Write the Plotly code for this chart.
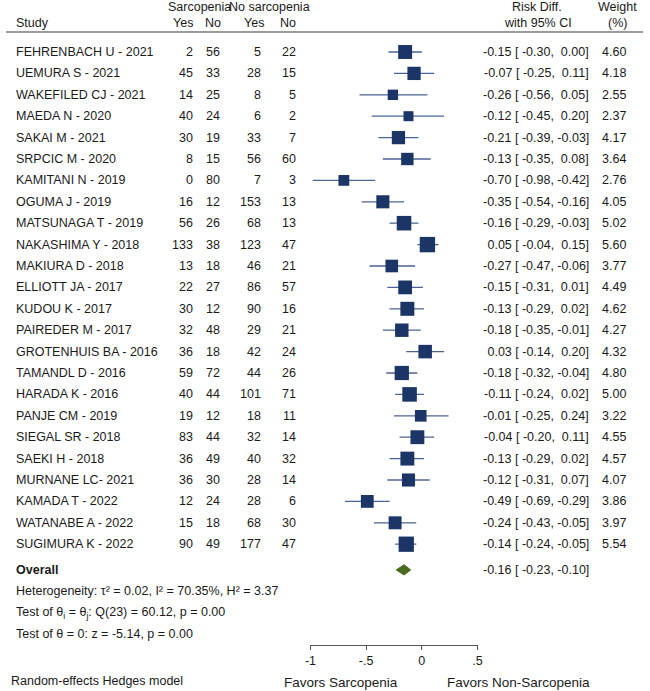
import plotly.graph_objects as go

# ---------------- data ----------------
studies = ["FEHRENBACH U - 2021", "UEMURA S - 2021", "WAKEFILED CJ - 2021", "MAEDA N - 2020",
           "SAKAI M - 2021", "SRPCIC M - 2020", "KAMITANI N - 2019", "OGUMA J - 2019",
           "MATSUNAGA T - 2019", "NAKASHIMA Y - 2018", "MAKIURA D - 2018", "ELLIOTT JA - 2017",
           "KUDOU K - 2017", "PAIREDER M - 2017", "GROTENHUIS BA - 2016", "TAMANDL D - 2016",
           "HARADA K - 2016", "PANJE CM - 2019", "SIEGAL SR - 2018", "SAEKI H - 2018",
           "MURNANE LC- 2021", "KAMADA T - 2022", "WATANABE A - 2022", "SUGIMURA K - 2022"]
sarc_yes = [2, 45, 14, 40, 30, 8, 0, 16, 56, 133, 13, 22, 30, 32, 36, 59, 40, 19, 83, 36, 36, 12, 15, 90]
sarc_no = [56, 33, 25, 24, 19, 15, 80, 12, 26, 38, 18, 27, 12, 48, 18, 72, 44, 12, 44, 49, 30, 24, 18, 49]
nosarc_yes = [5, 28, 8, 6, 33, 56, 7, 153, 68, 123, 46, 86, 90, 29, 42, 44, 101, 18, 32, 40, 28, 28, 68, 177]
nosarc_no = [22, 15, 5, 2, 7, 60, 3, 13, 13, 47, 21, 57, 16, 21, 24, 26, 71, 11, 14, 32, 14, 6, 30, 47]
est = [-0.15, -0.07, -0.26, -0.12, -0.21, -0.13, -0.70, -0.35, -0.16, 0.05, -0.27, -0.15,
       -0.13, -0.18, 0.03, -0.18, -0.11, -0.01, -0.04, -0.13, -0.12, -0.49, -0.24, -0.14]
ci_lo = [-0.30, -0.25, -0.56, -0.45, -0.39, -0.35, -0.98, -0.54, -0.29, -0.04, -0.47, -0.31,
         -0.29, -0.35, -0.14, -0.32, -0.24, -0.25, -0.20, -0.29, -0.31, -0.69, -0.43, -0.24]
ci_hi = [0.00, 0.11, 0.05, 0.20, -0.03, 0.08, -0.42, -0.16, -0.03, 0.15, -0.06, 0.01,
         0.02, -0.01, 0.20, -0.04, 0.02, 0.24, 0.11, 0.02, 0.07, -0.29, -0.05, -0.05]
weight = [4.60, 4.18, 2.55, 2.37, 4.17, 3.64, 2.76, 4.05, 5.02, 5.60, 3.77, 4.49,
          4.62, 4.27, 4.32, 4.80, 5.00, 3.22, 4.55, 4.57, 4.07, 3.86, 3.97, 5.54]
overall_est, overall_lo, overall_hi = -0.16, -0.23, -0.10
het_text = "Heterogeneity: τ² = 0.02, I² = 70.35%, H² = 3.37"
q_text = "Test of θ<sub>i</sub> = θ<sub>j</sub>: Q(23) = 60.12, p = 0.00"
z_text = "Test of θ = 0: z = -5.14, p = 0.00"
tick_vals = [-1, -0.5, 0, 0.5]
tick_text = ["-1", "-.5", "0", ".5"]

# ---------------- layout constants ----------------
W, H = 650, 691
ROW0, ROWH = 52.0, 21.4          # pixel y of first row, row spacing
AXIS_PIX = 645.0                 # pixel y of x-axis line
X0PIX, XSCALE = 423.0, 113.3     # pixel x of 0, px per unit
FONT = "Liberation Sans, Arial, Helvetica, sans-serif"
FS = 12.5
NAVY = "#1a3566"
LINEC = "#4d6396"
GREEN = "#4a6a1e"

n = len(studies)
rows = list(range(n))
overall_row = 24.2

def px(xp):
    return xp / W

def py(yp):
    return 1 - yp / H

y_top = (0 - ROW0) / ROWH
y_bot = (AXIS_PIX - ROW0) / ROWH
x_lo, x_hi = tick_vals[0], tick_vals[-1]
dom_lo = (X0PIX + XSCALE * x_lo) / W
dom_hi = (X0PIX + XSCALE * x_hi) / W

fig = go.Figure()

# CI whiskers + squares
fig.add_trace(go.Scatter(
    x=est, y=rows, mode="markers",
    marker=dict(symbol="square", color=NAVY, size=[6.5 * w ** 0.5 for w in weight],
                opacity=1, line=dict(width=0)),
    error_x=dict(type="data", symmetric=False,
                 array=[h - e for h, e in zip(ci_hi, est)],
                 arrayminus=[e - l for e, l in zip(est, ci_lo)],
                 width=0, thickness=1.3, color=LINEC),
    cliponaxis=False, hoverinfo="skip", showlegend=False))

# overall diamond
dh = 0.24
fig.add_trace(go.Scatter(
    x=[overall_lo, overall_est, overall_hi, overall_est, overall_lo],
    y=[overall_row, overall_row - dh, overall_row, overall_row + dh, overall_row],
    mode="lines", fill="toself", fillcolor=GREEN, line=dict(color=GREEN, width=1),
    hoverinfo="skip", showlegend=False))

ann = []

def add(text, xpix, ypos, yref="y", align="left", size=FS, bold=False):
    ann.append(dict(text=("<b>%s</b>" % text) if bold else text,
                    x=px(xpix), xref="paper", y=ypos, yref=yref,
                    xanchor=align, yanchor="middle", showarrow=False,
                    font=dict(family=FONT, size=size, color="#1a1a1a")))

NB = "\u00a0"
# headers
add("Sarcopenia", 197, py(7), "paper", "center")
add("No sarcopenia", 268, py(7), "paper", "center")
add("Study", 8, py(23), "paper")
for xp, t in [(192, "Yes"), (221, "No"), (264, "Yes"), (297, "No")]:
    add(t, xp, py(23), "paper", "right")
add("Risk Diff.", 540, py(7), "paper", "center")
add("with 95% CI", 541, py(23), "paper", "center")
add("Weight", 622, py(7), "paper", "center")
add("(%)", 622, py(23), "paper", "center")

# rows
for i in rows:
    add(studies[i], 8, i)
    add(str(sarc_yes[i]), 192, i, align="right")
    add(str(sarc_no[i]), 220, i, align="right")
    add(str(nosarc_yes[i]), 261, i, align="right")
    add(str(nosarc_no[i]), 297, i, align="right")
    s = f"{est[i]:5.2f} [{ci_lo[i]:6.2f},{ci_hi[i]:6.2f}]".replace(" ", NB)
    add(s, 595, i, align="right")
    add(f"{weight[i]:.2f}", 633, i, align="right")

s = f"{overall_est:5.2f} [{overall_lo:6.2f},{overall_hi:6.2f}]".replace(" ", NB)
add("Overall", 8, overall_row, bold=True)
add(s, 595, overall_row, align="right")
add(het_text, 8, overall_row + 1.0)
add(q_text, 8, overall_row + 2.0)
add(z_text, 8, overall_row + 3.0)

# footer
add("Random-effects Hedges model", 3, py(681), "paper", size=12.5)
add("Favors Sarcopenia", 341, py(682), "paper", "center", size=13.5)
add("Favors Non-Sarcopenia", 521, py(682), "paper", "center", size=13.5)

fig.update_layout(
    width=W, height=H, margin=dict(l=0, r=0, t=0, b=0),
    paper_bgcolor="white", plot_bgcolor="white",
    annotations=ann,
    shapes=[dict(type="line", xref="paper", yref="paper", x0=0, x1=648 / W,
                 y0=py(32), y1=py(32), line=dict(color="#7a7a7a", width=1.5))],
    xaxis=dict(domain=[dom_lo, dom_hi], range=[x_lo, x_hi], showgrid=False, zeroline=False,
               showline=True, linecolor="#555555", linewidth=1,
               ticks="outside", ticklen=4, tickcolor="#555555", tickwidth=1,
               tickvals=tick_vals, ticktext=tick_text,
               tickfont=dict(family=FONT, size=12.5, color="#1a1a1a")),
    yaxis=dict(domain=[1 - AXIS_PIX / H, 1], range=[y_bot, y_top], visible=False,
               showgrid=False, zeroline=False),
)

fig.write_html("out.html", config={"displayModeBar": False},
               post_script="document.body.style.margin='0px';document.body.style.padding='0px';")
